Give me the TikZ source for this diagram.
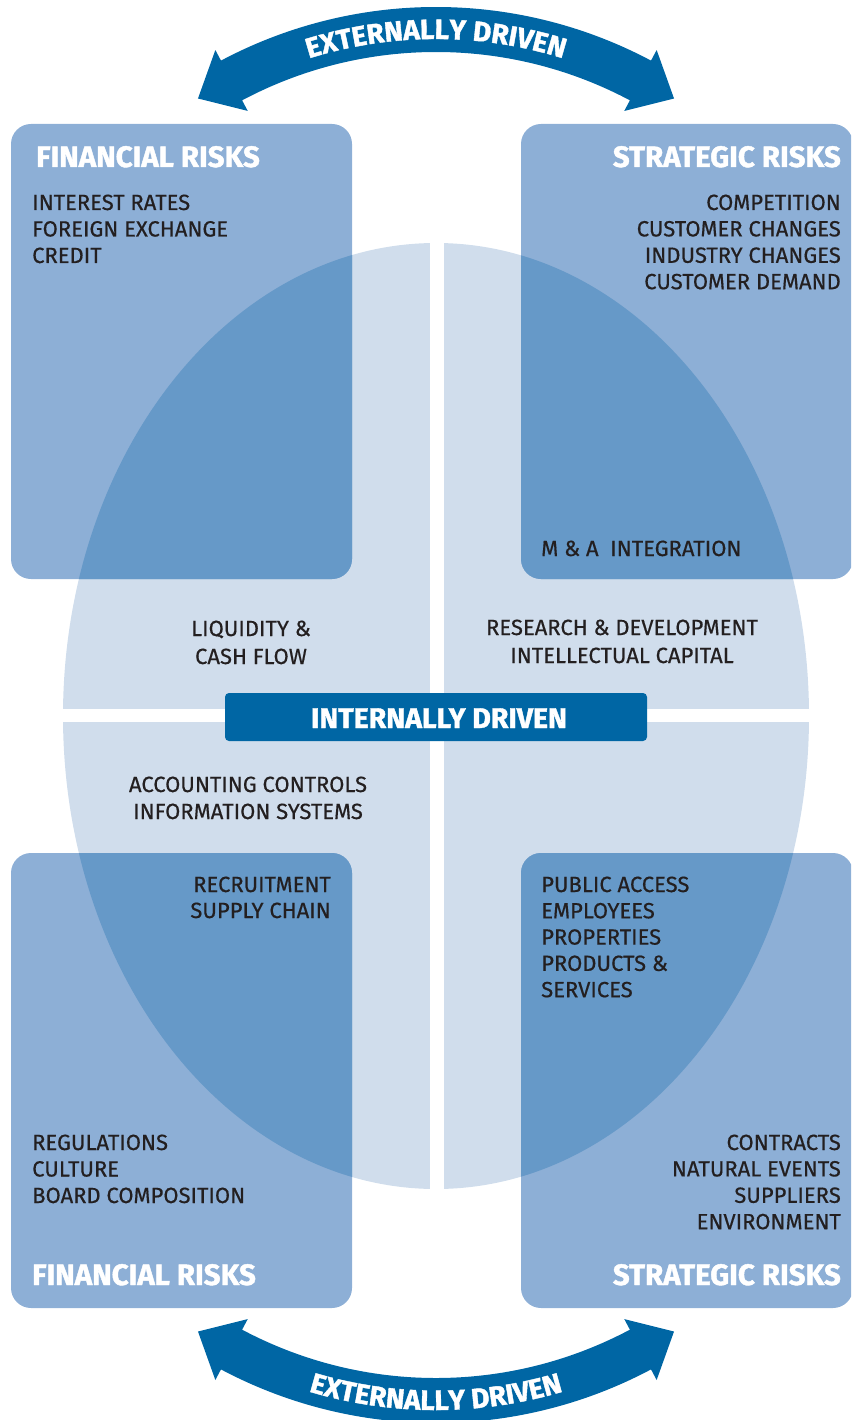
\documentclass[tikz,border=0pt]{standalone}
\usepackage{fontspec}
\setmainfont{Fira Sans}
\newfontfamily\bodyfont[FakeBold=0.5]{Fira Sans}
\newfontfamily\heavyfont[BoldFeatures={FakeBold=1.4}]{Fira Sans}
\usetikzlibrary{decorations.text}
\definecolor{boxblue}{HTML}{8DAFD6}
\definecolor{overblue}{HTML}{6699C8}
\definecolor{elllight}{HTML}{D0DDEC}
\definecolor{darkblue}{HTML}{0066A4}
\definecolor{ink}{HTML}{231F20}
\newcommand\arcfont{\heavyfont\bfseries\fontsize{28}{30}\selectfont}
\begin{document}
\begin{tikzpicture}[x=1pt,y=1pt,
  riskbox/.style={rounded corners=20pt},
  item/.style={font=\bodyfont\fontsize{22}{26}\selectfont, text=ink, inner sep=0pt},
  head/.style={font=\heavyfont\bfseries\fontsize{29.5}{31}\selectfont, text=white, inner sep=0pt},
  midhead/.style={font=\heavyfont\bfseries\fontsize{28.5}{30}\selectfont, text=white, inner sep=0pt},
  bandarrow/.style={fill=darkblue},
  arctext/.style={decorate, decoration={text along path, text align=center, text color=white, text={|\arcfont|EXTERNALLY DRIVEN}}}
]
\useasboundingbox (0,-1420) rectangle (851,0);
\clip (0,-1420) rectangle (851,0);

% central ellipse split in four
\fill[elllight] (436,-716) ellipse [x radius=373, y radius=473];
\fill[white] (430,-230) rectangle (444,-1210);
\fill[white] (40,-709) rectangle (830,-722);

% risk boxes
\fill[boxblue, riskbox] (11,-124) rectangle (352,-579);
\fill[boxblue, riskbox] (521,-124) rectangle (853,-579);
\fill[boxblue, riskbox] (11,-853) rectangle (352,-1308);
\fill[boxblue, riskbox] (521,-853) rectangle (853,-1308);
\begin{scope}
  \clip (436,-716) ellipse [x radius=373, y radius=473];
  \fill[overblue, riskbox] (11,-124) rectangle (352,-579);
  \fill[overblue, riskbox] (521,-124) rectangle (853,-579);
  \fill[overblue, riskbox] (11,-853) rectangle (352,-1308);
  \fill[overblue, riskbox] (521,-853) rectangle (853,-1308);
\end{scope}

% top curved double arrow
\begin{scope}[shift={(436,-465)}]
  \fill[bandarrow] (118:470) -- (123:437) -- (118:401) -- (118:413)
    arc[start angle=118, end angle=62, radius=413] -- (62:401) -- (57:437) -- (62:470) -- (62:458)
    arc[start angle=62, end angle=118, radius=458] -- cycle;
  \path[arctext] (140:426) arc[start angle=140, end angle=40, radius=426];
\end{scope}
% bottom curved double arrow
\begin{scope}[shift={(436,-965)}]
  \fill[bandarrow] (-118:470) -- (-123:437) -- (-118:401) -- (-118:413)
    arc[start angle=-118, end angle=-62, radius=413] -- (-62:401) -- (-57:437) -- (-62:470) -- (-62:458)
    arc[start angle=-62, end angle=-118, radius=458] -- cycle;
  \path[arctext] (-140:445) arc[start angle=-140, end angle=-40, radius=445];
\end{scope}

% centre label
\node[fill=darkblue, rounded corners=4pt, minimum width=422pt, minimum height=48pt, inner sep=0pt] (internal) at (436,-717) {};
\node[midhead, anchor=base] (internaltext) at (439,-728) {INTERNALLY DRIVEN};

% headings
\node[head, anchor=base west] (fin1) at (36,-167) {FINANCIAL RISKS};
\node[head, anchor=base east] (str1) at (841,-167) {STRATEGIC RISKS};
\node[head, anchor=base west] (fin2) at (32,-1285) {FINANCIAL RISKS};
\node[head, anchor=base east] (str2) at (841,-1285) {STRATEGIC RISKS};

% lists
\foreach \t [count=\i] in {INTEREST RATES, FOREIGN EXCHANGE, CREDIT}
  \node[item, anchor=base west] (tl\i) at (32,{-210-26.5*(\i-1)}) {\t};
\foreach \t [count=\i] in {COMPETITION, CUSTOMER CHANGES, INDUSTRY CHANGES, CUSTOMER DEMAND}
  \node[item, anchor=base east] (tr\i) at (841,{-210-26.4*(\i-1)}) {\t};
\node[item, anchor=base west] (ma) at (541,-556) {M \& A~~INTEGRATION};
\node[item, anchor=base] (liq1) at (251,-636) {LIQUIDITY \&};
\node[item, anchor=base] (liq2) at (251,-664) {CASH FLOW};
\node[item, anchor=base] (rd1) at (622,-635) {RESEARCH \& DEVELOPMENT};
\node[item, anchor=base] (rd2) at (622,-663) {INTELLECTUAL CAPITAL};
\node[item, anchor=base] (ac1) at (248,-792) {ACCOUNTING CONTROLS};
\node[item, anchor=base] (ac2) at (248,-819) {INFORMATION SYSTEMS};
\node[item, anchor=base east] (rc1) at (331,-892) {RECRUITMENT};
\node[item, anchor=base east] (rc2) at (331,-918) {SUPPLY CHAIN};
\foreach \t [count=\i] in {PUBLIC ACCESS, EMPLOYEES, PROPERTIES, PRODUCTS \&, SERVICES}
  \node[item, anchor=base west] (pa\i) at (541,{-892-26.3*(\i-1)}) {\t};
\foreach \t [count=\i] in {REGULATIONS, CULTURE, BOARD COMPOSITION}
  \node[item, anchor=base west] (bl\i) at (32,{-1150-26.5*(\i-1)}) {\t};
\foreach \t [count=\i] in {CONTRACTS, NATURAL EVENTS, SUPPLIERS, ENVIRONMENT}
  \node[item, anchor=base east] (br\i) at (841,{-1150-26.4*(\i-1)}) {\t};
\end{tikzpicture}
\end{document}
